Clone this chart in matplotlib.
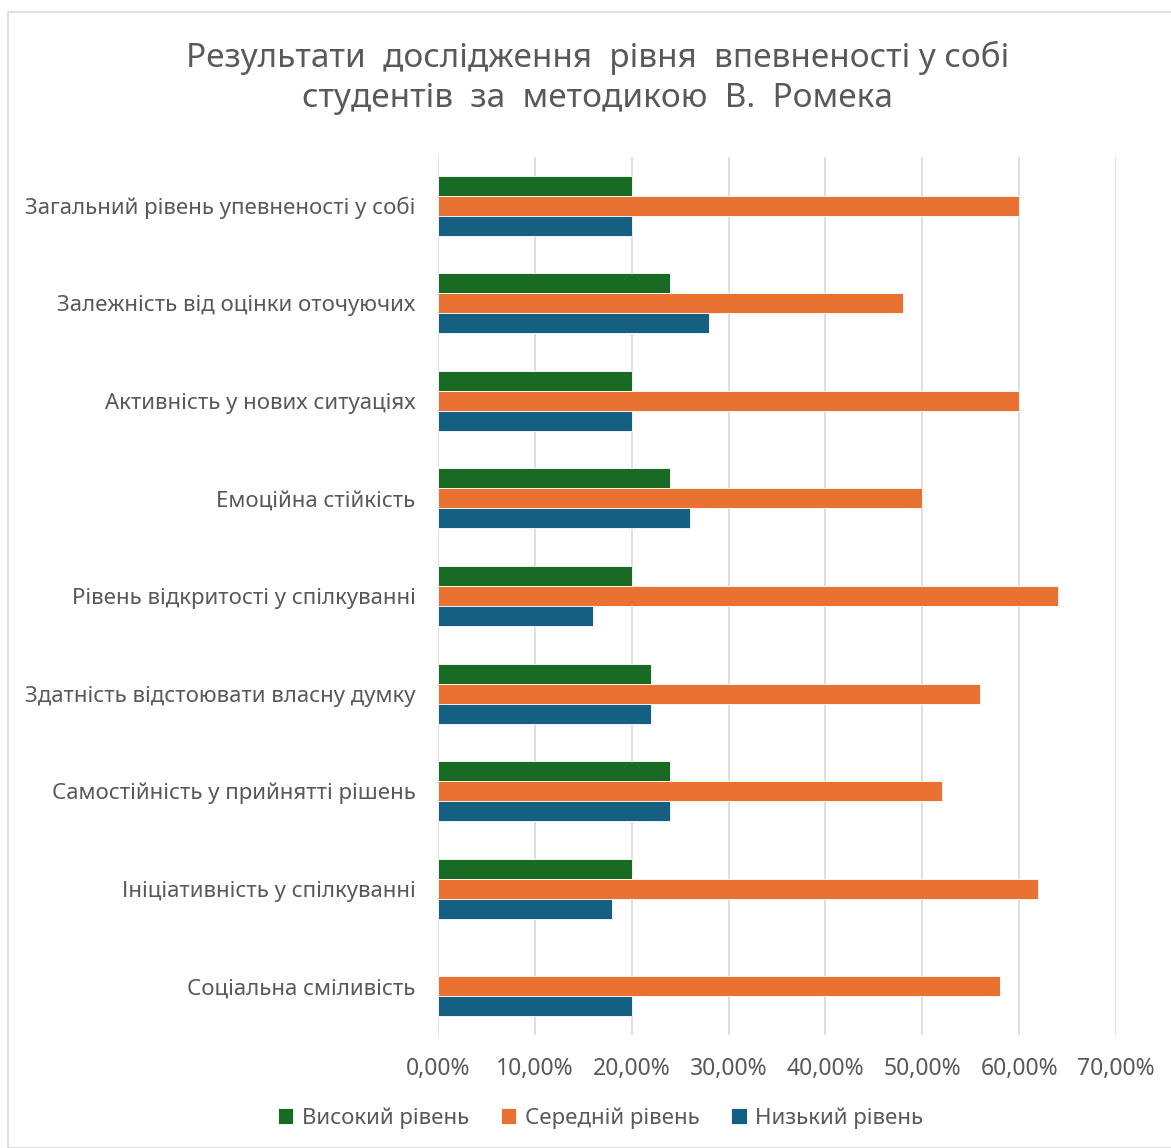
import numpy as np
import matplotlib.pyplot as plt
from matplotlib.patches import Rectangle

plt.rcParams['font.family'] = ['Noto Sans', 'DejaVu Sans']

categories = ['Загальний рівень упевненості у собі', 'Залежність від оцінки оточуючих',
              'Активність у нових ситуаціях', 'Емоційна стійкість',
              'Рівень відкритості у спілкуванні', 'Здатність відстоювати власну думку',
              'Самостійність у прийнятті рішень', 'Ініціативність у спілкуванні',
              'Соціальна сміливість']
high = [20, 24, 20, 24, 20, 22, 24, 20, 0]
mid = [60, 48, 60, 50, 64, 56, 52, 62, 58]
low = [20, 28, 20, 26, 16, 22, 24, 18, 20]
series_names = ['Високий рівень', 'Середній рівень', 'Низький рівень']
colors = ['#196B24', '#E97132', '#156082']
ticks = [0, 10, 20, 30, 40, 50, 60, 70]

txt = '#595959'
fig = plt.figure(figsize=(11.71, 11.48), dpi=100)
ax = fig.add_axes([0.374, 0.0984, 0.579, 0.765])

y = np.arange(len(categories))
h = 0.205
for i, (vals, name, c) in enumerate(zip([high, mid, low], series_names, colors)):
    lw = [0.6 if v > 0 else 0 for v in vals]
    ax.barh(y + (i - 1) * h, vals, height=h, color=c, label=name,
            edgecolor='white', linewidth=lw, zorder=3)

ax.set_xlim(0, 70)
ax.set_ylim(len(categories) - 0.5, -0.5)
ax.set_xticks(ticks)
ax.set_xticklabels([f'{t},00%' for t in ticks])
ax.set_yticks(y)
ax.set_yticklabels(categories)
ax.tick_params(axis='both', length=0, colors=txt)
ax.tick_params(axis='x', pad=16, labelsize=16.5)
ax.tick_params(axis='y', pad=16, labelsize=16)
ax.grid(axis='x', color='#D9D9D9', linewidth=1.2, zorder=0)
for s in ax.spines.values():
    s.set_visible(False)

fig.text(0.51, 0.932, 'Результати  дослідження  рівня  впевненості у собі\nстудентів  за  методикою  В.  Ромека',
         ha='center', va='center', fontsize=24, color=txt, linespacing=1.3)

leg = ax.legend(loc='center', bbox_to_anchor=(0.513, 0.026), bbox_transform=fig.transFigure,
                ncol=3, frameon=False, fontsize=16, handlelength=0.7, handleheight=0.7,
                columnspacing=1.4, handletextpad=0.4)
for t in leg.get_texts():
    t.set_color(txt)

fig.patches.append(Rectangle((8 / 1171, 0), 1.2, 1 - 12 / 1148, transform=fig.transFigure,
                             fill=False, edgecolor='#D9D9D9', linewidth=1.2))

fig.savefig('out.png', dpi=100)
